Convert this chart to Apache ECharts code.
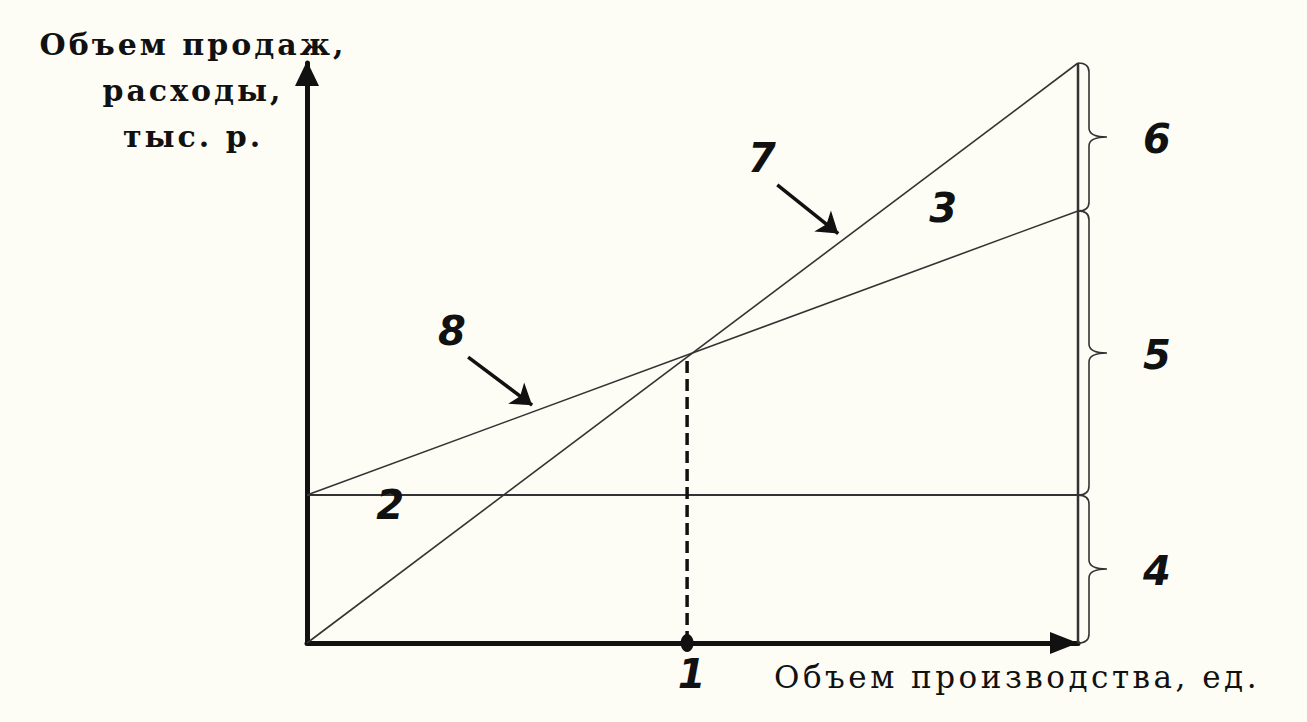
<!DOCTYPE html>
<html>
<head>
<meta charset="utf-8">
<title>График безубыточности</title>
<script src="https://cdn.jsdelivr.net/npm/echarts@6/dist/echarts.min.js"></script>
<style>
    html, body { margin: 0; padding: 0; background: #fdfdf5; }
    #chart { width: 1307px; height: 722px; }
    /* loose letter spacing of the scanned original */
    #chart text[style*="DejaVu Serif"] { letter-spacing: 3.5px; }
    #chart text[style*="bold"][style*="DejaVu Serif"] { letter-spacing: 3px; }
</style>
</head>
<body>
<div id="chart"></div>
<script>
// volume axis, units (0..100 of the drawing scale)
const volume = [0, 100];
const revenue = [0, 100];          // 7 - sales
const totalCost = [25.5, 74.5];    // 8 - total costs
const fixedCost = [25.5, 25.5];    // 2 - fixed costs
const breakEven = [49.3, 49.6];    // 1 - break-even point

// number labels: [x, y, text]
const marks = [
    [59.0, 83.6, "7"],
    [82.5, 75.0, "3"],
    [18.8, 53.8, "8"],
    [10.8, 23.8, "2"],
    [49.9, -5.3, "1"]
];

// pointer arrows: [from, to]
const pointers = [
    [[61.0, 79.0], [68.9, 70.6]],
    [[20.9, 49.3], [29.2, 41.0]]
];

// braces on the right: [x, from, to, text]
const braces = [
    [volume[1], totalCost[1], revenue[1], "6"],
    [volume[1], fixedCost[1], totalCost[1], "5"],
    [volume[1], 0, fixedCost[1], "4"]
];

const ink = "#111";
const thin = "#333";
const digitFont = "italic bold 40px 'DejaVu Sans'";

function line(name, data, width, color, type) {
    return {
        name: name,
        type: "line",
        data: data,
        showSymbol: false,
        silent: true,
        lineStyle: { width: width, color: color, type: type || "solid" },
        z: 3
    };
}

function renderBrace(params, api) {
    const top = api.coord([api.value(0), api.value(2)]);
    const bot = api.coord([api.value(0), api.value(1)]);
    const x = top[0];
    const mid = (top[1] + bot[1]) / 2;
    const dx = 11, tip = 29, r = 9;
    const d = [
        "M", x, bot[1],
        "Q", x + dx, bot[1], x + dx, bot[1] - r,
        "L", x + dx, mid + r,
        "Q", x + dx, mid, x + tip, mid,
        "Q", x + dx, mid, x + dx, mid - r,
        "L", x + dx, top[1] + r,
        "Q", x + dx, top[1], x, top[1]
    ].join(" ");
    return {
        type: "group",
        children: [
            {
                type: "path",
                shape: { pathData: d },
                style: { fill: "none", stroke: thin, lineWidth: 1.6 }
            },
            {
                type: "text",
                style: {
                    text: braces[params.dataIndex][3],
                    x: x + 79,
                    y: mid + 2,
                    align: "center",
                    verticalAlign: "middle",
                    font: digitFont,
                    fill: ink
                }
            }
        ]
    };
}

const hidden = {
    axisLine: { show: false },
    axisTick: { show: false },
    axisLabel: { show: false },
    splitLine: { show: false }
};

const chart = echarts.init(document.getElementById("chart"), null, { renderer: "svg" });

chart.setOption({
    backgroundColor: "#fdfdf5",
    animation: false,
    grid: { left: 307, right: 229, top: 63, bottom: 79 },
    xAxis: [
        {
            type: "value",
            min: volume[0],
            max: volume[1],
            position: "bottom",
            axisLine: {
                lineStyle: { color: ink, width: 5 },
                symbol: ["none", "triangle"],
                symbolSize: [22, 28],
                symbolOffset: [0, -14]
            },
            axisTick: { show: false },
            axisLabel: { show: false },
            splitLine: { show: false }
        },
        Object.assign({
            type: "value",
            min: volume[0],
            max: volume[1],
            position: "bottom",
            offset: 34,
            name: "Объем производства, ед.",
            nameLocation: "end",
            nameGap: -61,
            nameTextStyle: {
                fontFamily: "DejaVu Serif",
                fontSize: 31,
                color: ink,
                align: "center",
                verticalAlign: "middle"
            }
        }, hidden)
    ],
    yAxis: {
        type: "value",
        min: 0,
        max: 100,
        name: "Объем продаж,\nрасходы,\nтыс. р.",
        nameLocation: "end",
        nameGap: -27,
        nameTextStyle: {
            fontFamily: "DejaVu Serif",
            fontWeight: "bold",
            fontSize: 30,
            lineHeight: 46,
            color: ink,
            align: "center",
            verticalAlign: "middle",
            padding: [0, 228, 0, 0]
        },
        axisLine: {
            lineStyle: { color: ink, width: 5 },
            symbol: ["none", "triangle"],
            symbolSize: [24, 25],
            symbolOffset: [0, -10.5]
        },
        axisTick: { show: false },
        axisLabel: { show: false },
        splitLine: { show: false }
    },
    series: [
        line("Объем продаж", volume.map((v, i) => [v, revenue[i]]), 1.6, thin),
        line("Суммарные расходы", volume.map((v, i) => [v, totalCost[i]]), 1.6, thin),
        line("Постоянные расходы", volume.map((v, i) => [v, fixedCost[i]]), 2, thin),
        line("edge", [[volume[1], 0], [volume[1], revenue[1]]], 2.5, thin),
        line("Точка безубыточности", [[breakEven[0], 0], breakEven], 3.5, ink, [12, 6]),
        {
            type: "scatter",
            data: [[breakEven[0], 0]],
            symbol: "circle",
            symbolSize: [13, 18],
            itemStyle: { color: ink, opacity: 1 },
            silent: true,
            z: 4
        },
        {
            type: "lines",
            coordinateSystem: "cartesian2d",
            data: pointers.map(p => ({ coords: p })),
            symbol: ["none", "arrow"],
            symbolSize: 20,
            lineStyle: { color: ink, width: 3.5, opacity: 1, curveness: 0 },
            silent: true,
            z: 4
        },
        {
            type: "scatter",
            data: marks,
            symbolSize: 0,
            clip: false,
            silent: true,
            itemStyle: { opacity: 1 },
            label: {
                show: true,
                position: "inside",
                formatter: p => p.value[2],
                fontFamily: "DejaVu Sans",
                fontStyle: "italic",
                fontWeight: "bold",
                fontSize: 40,
                color: ink,
                opacity: 1
            },
            z: 5
        },
        {
            type: "custom",
            data: braces,
            clip: false,
            silent: true,
            renderItem: renderBrace,
            z: 4
        }
    ]
});
</script>
</body>
</html>
